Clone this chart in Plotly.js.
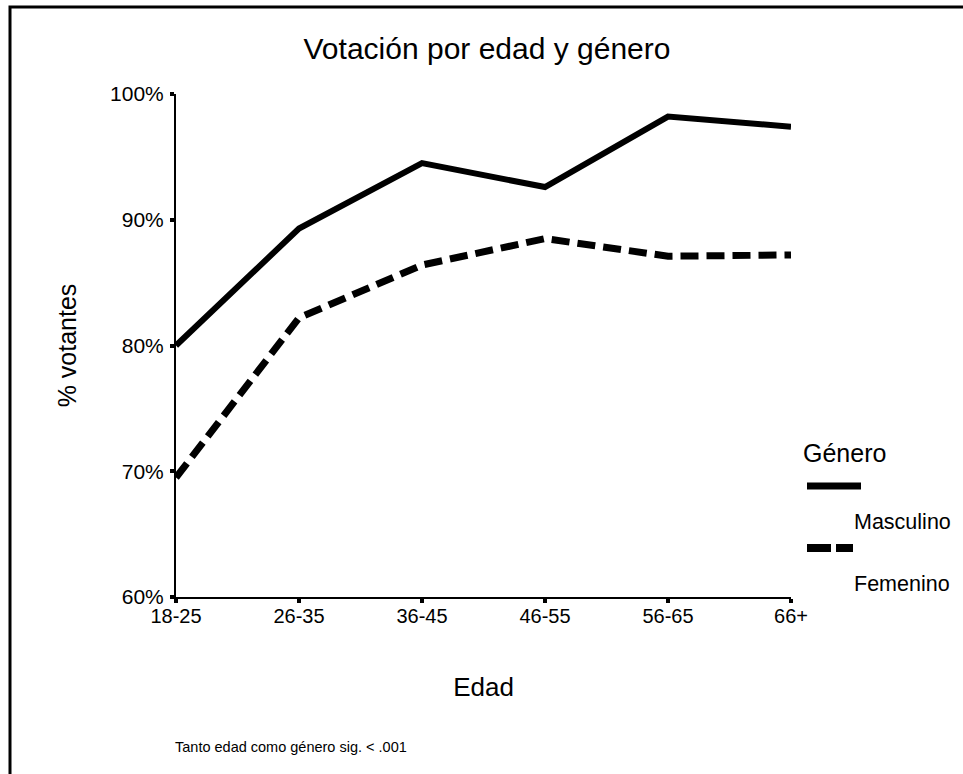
<!DOCTYPE html>
<html>
<head>
<meta charset="utf-8">
<script src="https://cdn.plot.ly/plotly-3.0.1.min.js"></script>
<style>
  html, body { margin: 0; padding: 0; background: #ffffff; }
  #chart { width: 963px; height: 774px; }
</style>
</head>
<body>
<div id="chart"></div>
<script>
// ---- data ----
const ageGroups = ["18-25", "26-35", "36-45", "46-55", "56-65", "66+"];
const masculino = [80.0, 89.3, 94.5, 92.6, 98.2, 97.4];
const femenino  = [69.5, 82.2, 86.4, 88.5, 87.1, 87.2];
const yTicks = [60, 70, 80, 90, 100];
const seriesNames = ["Masculino", "Femenino"];
const chartTitle = "Votación por edad y género";
const xTitle = "Edad";
const yTitle = "% votantes";
const legendTitle = "Género";
const footnote = "Tanto edad como género sig. < .001";

// ---- layout geometry (pixels) ----
const W = 963, H = 774;
const plotL = 176, plotR = 791, plotT = 94, plotB = 597;
const pw = plotR - plotL, ph = plotB - plotT;
const px = x => (x - plotL) / pw;
const py = y => (plotB - y) / ph;

const FONT = "Liberation Sans, Arial, sans-serif";

const traces = [
  {
    x: ageGroups, y: masculino, name: seriesNames[0], type: "scatter", mode: "lines",
    line: { color: "#000000", width: 6 }, cliponaxis: false, hoverinfo: "skip", showlegend: false
  },
  {
    x: ageGroups, y: femenino, name: seriesNames[1], type: "scatter", mode: "lines",
    line: { color: "#000000", width: 7, dash: "18px,8px" }, cliponaxis: false, hoverinfo: "skip", showlegend: false
  }
];

const layout = {
  width: W, height: H,
  margin: { l: plotL, r: W - plotR, t: plotT, b: H - plotB, pad: 0 },
  paper_bgcolor: "#ffffff", plot_bgcolor: "#ffffff",
  font: { family: FONT, color: "#000000" },
  showlegend: false,
  title: {
    text: chartTitle, font: { size: 30, family: FONT, color: "#000" },
    xref: "container", yref: "container", x: 487 / W, y: 1 - 48 / H,
    xanchor: "center", yanchor: "middle"
  },
  xaxis: {
    type: "category", range: [0, ageGroups.length - 1],
    showline: true, linecolor: "#000", linewidth: 2, mirror: false,
    showgrid: false, zeroline: false,
    ticks: "outside", ticklen: 4, tickwidth: 4, tickcolor: "#000",
    ticklabelstandoff: -4,
    tickfont: { size: 20, family: FONT, color: "#000" },
    title: { text: xTitle, font: { size: 26, family: FONT, color: "#000" }, standoff: 52 }
  },
  yaxis: {
    range: [60, 100], tickvals: yTicks, ticktext: yTicks.map(v => v + "%"),
    showline: true, linecolor: "#000", linewidth: 2,
    showgrid: false, zeroline: false,
    ticks: "outside", ticklen: 4, tickwidth: 4, tickcolor: "#000",
    ticklabelstandoff: 2,
    tickfont: { size: 21, family: FONT, color: "#000" },
    title: { text: yTitle, font: { size: 25, family: FONT, color: "#000" }, standoff: 26 }
  },
  shapes: [
    // outer frame
    { type: "rect", xref: "paper", yref: "paper",
      x0: px(10), x1: px(975), y0: py(785), y1: py(7),
      line: { color: "#000", width: 3 }, fillcolor: "rgba(0,0,0,0)" },
    // legend symbols
    { type: "line", xref: "paper", yref: "paper", x0: px(807), x1: px(861), y0: py(486), y1: py(486),
      line: { color: "#000", width: 7 } },
    { type: "line", xref: "paper", yref: "paper", x0: px(807), x1: px(831), y0: py(548), y1: py(548),
      line: { color: "#000", width: 8 } },
    { type: "line", xref: "paper", yref: "paper", x0: px(836), x1: px(853), y0: py(548), y1: py(548),
      line: { color: "#000", width: 8 } }
  ],
  annotations: [
    { text: legendTitle, xref: "paper", yref: "paper", x: px(801), y: py(453),
      xanchor: "left", yanchor: "middle", showarrow: false, font: { size: 25, family: FONT, color: "#000" } },
    { text: seriesNames[0], xref: "paper", yref: "paper", x: px(852), y: py(522),
      xanchor: "left", yanchor: "middle", showarrow: false, font: { size: 21.5, family: FONT, color: "#000" } },
    { text: seriesNames[1], xref: "paper", yref: "paper", x: px(852), y: py(584),
      xanchor: "left", yanchor: "middle", showarrow: false, font: { size: 21.5, family: FONT, color: "#000" } },
    { text: footnote, xref: "paper", yref: "paper", x: px(173), y: py(747),
      xanchor: "left", yanchor: "middle", showarrow: false, font: { size: 14.5, family: FONT, color: "#000" } }
  ]
};

Plotly.newPlot("chart", traces, layout, { staticPlot: true, displayModeBar: false });
</script>
</body>
</html>
